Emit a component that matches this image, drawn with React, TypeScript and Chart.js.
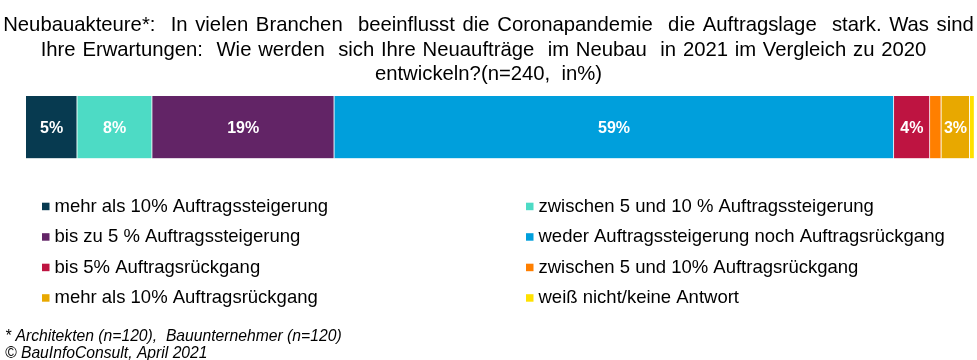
import React, { useEffect, useRef } from "react";
import { Chart, registerables } from "chart.js";

Chart.register(...registerables);

const categories = ["Neubauakteure"];
const seriesLabels = [
  "mehr als 10% Auftragssteigerung",
  "zwischen 5 und 10 % Auftragssteigerung",
  "bis zu 5 % Auftragssteigerung",
  "weder Auftragssteigerung noch Auftragsrückgang",
  "bis 5% Auftragsrückgang",
  "zwischen 5 und 10% Auftragsrückgang",
  "mehr als 10% Auftragsrückgang",
  "weiß nicht/keine Antwort",
];
const seriesValues = [5.4, 7.9, 19.2, 59.0, 3.8, 1.2, 3.0, 0.5];
const seriesColors = [
  "#073A50",
  "#4DDBC5",
  "#622466",
  "#009FDC",
  "#BE1441",
  "#FF7F00",
  "#E8A800",
  "#FFE100",
];
const titleLines = [
  "Neubauakteure*:  In vielen Branchen  beeinflusst die Coronapandemie  die Auftragslage  stark. Was sind",
  "Ihre Erwartungen:  Wie werden  sich Ihre Neuaufträge  im Neubau  in 2021 im Vergleich zu 2020",
  "entwickeln?(n=240,  in%)",
];
const footnoteLines = [
  "* Architekten (n=120),  Bauunternehmer (n=120)",
  "© BauInfoConsult, April 2021",
];

const FONT = '"Liberation Sans", Arial, sans-serif';
const titleWordSpacing = [2, 1.1, 0];
const titleShift = [0, -5, 0];

const overlayPlugin = {
  id: "overlay",
  afterDatasetsDraw(chart: any) {
    const ctx = chart.ctx as CanvasRenderingContext2D;
    ctx.save();
    ctx.font = `bold 16px ${FONT}`;
    ctx.fillStyle = "#ffffff";
    ctx.textAlign = "center";
    ctx.textBaseline = "middle";
    chart.data.datasets.forEach((ds: any, i: number) => {
      const meta = chart.getDatasetMeta(i);
      const v = ds.data[0];
      if (v < 2.5) return;
      const el = meta.data[0];
      const cx = (el.x + el.base) / 2;
      ctx.fillText(Math.round(v) + "%", cx, el.y + 1.5);
    });
    ctx.restore();
  },
  afterDraw(chart: any) {
    const ctx = chart.ctx as CanvasRenderingContext2D;
    const W = chart.width;
    ctx.save();
    // title
    ctx.fillStyle = "#000000";
    ctx.font = `20.3px ${FONT}`;
    ctx.textAlign = "center";
    ctx.textBaseline = "alphabetic";
    titleLines.forEach((t, i) => {
      (ctx as any).wordSpacing = `${titleWordSpacing[i]}px`;
      ctx.fillText(t, W / 2 + titleShift[i], 31.2 + i * 24.5);
    });
    (ctx as any).wordSpacing = "0px";
    // legend
    ctx.font = `18.5px ${FONT}`;
    ctx.textAlign = "left";
    const colX = [42, 526];
    chart.data.datasets.forEach((ds: any, i: number) => {
      const col = i % 2;
      const row = Math.floor(i / 2);
      const base = 211.7 + row * 30.5;
      const x = colX[col];
      ctx.fillStyle = ds.backgroundColor;
      ctx.fillRect(x, base - 9, 7.5, 7.5);
      ctx.fillStyle = "#000000";
      ctx.fillText(ds.label, x + 12.5, base);
    });
    // footnote
    ctx.font = `italic 15.7px ${FONT}`;
    footnoteLines.forEach((t, i) => {
      ctx.fillText(t, 5, 340.7 + i * 17.5);
    });
    ctx.restore();
  },
};

export default function App() {
  const ref = useRef<HTMLCanvasElement | null>(null);
  useEffect(() => {
    document.body.style.margin = "0";
    const canvas = ref.current;
    if (!canvas) return;
    const chart = new Chart(canvas, {
      type: "bar",
      data: {
        labels: categories,
        datasets: seriesLabels.map((label, i) => ({
          label,
          data: [seriesValues[i]],
          backgroundColor: seriesColors[i],
          borderColor: "#ffffff",
          borderWidth: { left: 0, top: 0, bottom: 0, right: 1 },
          borderSkipped: false,
          barPercentage: 1,
          categoryPercentage: 1,
        })),
      },
      options: {
        indexAxis: "y",
        responsive: false,
        animation: false,
        layout: { padding: { left: 26, right: 2.5, top: 96, bottom: 201.5 } },
        scales: {
          x: { stacked: true, min: 0, max: 100, display: false },
          y: { stacked: true, display: false },
        },
        plugins: {
          legend: { display: false },
          title: { display: false },
          tooltip: { enabled: false },
        },
      },
      plugins: [overlayPlugin],
    } as any);
    return () => chart.destroy();
  }, []);
  return (
    <div style={{ width: 977, height: 360 }}>
      <canvas ref={ref} width={977} height={360} style={{ display: "block" }} />
    </div>
  );
}
